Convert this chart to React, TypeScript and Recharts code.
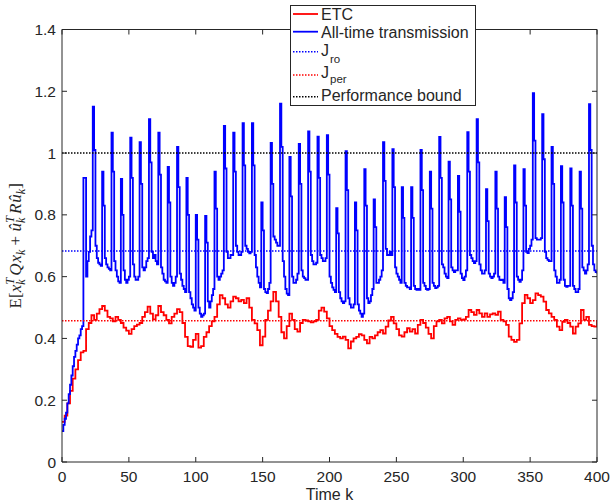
import React from 'react';
import { LineChart, Line, XAxis, YAxis, ReferenceLine, Legend } from 'recharts';

// ---- axis ticks ----
const timeTicks = [0, 50, 100, 150, 200, 250, 300, 350, 400];
const costTicks = [0, 0.2, 0.4, 0.6, 0.8, 1, 1.2, 1.4];

// ---- reference levels ----
const J_RO = 0.683;
const J_PER = 0.457;
const PERFORMANCE_BOUND = 1.0;

// ---- ETC cost, one value every 2 time steps (k = 0, 2, ..., 400) ----
const ETC_PERIOD = 2;
const etcCost = [
  0.13, 0.15, 0.19, 0.23, 0.27, 0.30, 0.33, 0.355, 0.36, 0.43,
  0.45, 0.475, 0.46, 0.48, 0.495, 0.505, 0.49, 0.47, 0.465, 0.455,
  0.47, 0.46, 0.45, 0.435, 0.425, 0.415, 0.43, 0.44, 0.445, 0.45,
  0.47, 0.485, 0.503, 0.48, 0.462, 0.475, 0.505, 0.485, 0.475, 0.46,
  0.449, 0.47, 0.48, 0.495, 0.485, 0.45, 0.405, 0.375, 0.373, 0.395,
  0.415, 0.37, 0.375, 0.405, 0.42, 0.44, 0.455, 0.47, 0.51, 0.54,
  0.53, 0.51, 0.50, 0.52, 0.535, 0.53, 0.52, 0.525, 0.514, 0.53,
  0.50, 0.46, 0.449, 0.427, 0.378, 0.406, 0.46, 0.49, 0.52, 0.551,
  0.52, 0.47, 0.42, 0.40, 0.44, 0.48, 0.46, 0.43, 0.422, 0.45,
  0.46, 0.458, 0.455, 0.452, 0.455, 0.46, 0.49, 0.50, 0.487, 0.465,
  0.44, 0.427, 0.415, 0.405, 0.40, 0.406, 0.395, 0.368, 0.39, 0.40,
  0.405, 0.414, 0.41, 0.395, 0.384, 0.405, 0.40, 0.41, 0.42, 0.427,
  0.416, 0.438, 0.458, 0.47, 0.449, 0.43, 0.41, 0.406, 0.42, 0.433,
  0.422, 0.43, 0.416, 0.444, 0.46, 0.45, 0.435, 0.415, 0.40, 0.44,
  0.455, 0.46, 0.449, 0.465, 0.47, 0.455, 0.444, 0.46, 0.465, 0.46,
  0.462, 0.47, 0.492, 0.485, 0.476, 0.492, 0.481, 0.47, 0.481, 0.47,
  0.478, 0.481, 0.476, 0.487, 0.46, 0.455, 0.444, 0.406, 0.395, 0.389,
  0.395, 0.449, 0.514, 0.541, 0.53, 0.514, 0.524, 0.546, 0.54, 0.535,
  0.519, 0.492, 0.481, 0.47, 0.46, 0.438, 0.427, 0.454, 0.46, 0.45,
  0.438, 0.416, 0.438, 0.449, 0.492, 0.46, 0.47, 0.444, 0.44, 0.438,
  0.46,
];

// ---- all-time transmission cost, one value per time step (k = 0 ... 400) ----
const allTimeCost = [
  0.10, 0.12, 0.14, 0.16, 0.19, 0.22, 0.25, 0.28, 0.31, 0.34, 0.36, 0.38, 0.40, 0.41, 0.43, 0.44,
  0.92, 0.92, 0.60, 0.65, 0.68, 0.73, 0.75,
  1.15, 1.01, 0.70, 0.66, 0.645, 0.64, 0.635,
  0.94, 0.83, 0.66, 0.64, 0.63, 0.625, 0.62,
  1.066, 0.94, 0.65, 0.62, 0.60, 0.585, 0.58,
  0.916, 0.80, 0.62, 0.59, 0.58, 0.59, 0.60,
  1.05, 0.92, 0.64, 0.60, 0.59, 0.59, 0.60,
  1.035, 0.90, 0.63, 0.62, 0.63, 0.65, 0.66,
  1.11, 0.97, 0.68, 0.66, 0.67, 0.65, 0.64,
  1.066, 0.93, 0.63, 0.61, 0.59, 0.585, 0.58,
  0.955, 0.84, 0.60, 0.58, 0.57, 0.58, 0.60,
  1.02, 0.89, 0.61, 0.59, 0.57, 0.56, 0.55,
  0.92, 0.80, 0.55, 0.53, 0.51, 0.50, 0.49,
  0.80, 0.72, 0.50, 0.48, 0.47, 0.475, 0.48,
  0.797, 0.71, 0.52, 0.50, 0.52, 0.54, 0.56,
  0.94, 0.82, 0.60, 0.59, 0.60, 0.61, 0.62,
  1.088, 0.95, 0.68, 0.66, 0.66, 0.67, 0.67,
  1.066, 0.94, 0.70, 0.68, 0.67, 0.67, 0.68,
  1.097, 0.96, 0.70, 0.69, 0.68, 0.675, 0.68,
  1.097, 0.96, 0.67, 0.63, 0.60, 0.58, 0.565,
  0.84, 0.75, 0.56, 0.55, 0.547, 0.56, 0.58,
  1.033, 0.90, 0.73, 0.72, 0.71, 0.70, 0.70,
  1.16, 1.02, 0.65, 0.60, 0.56, 0.545, 0.54,
  0.988, 0.86, 0.60, 0.58, 0.58, 0.59, 0.61,
  1.03, 0.90, 0.62, 0.60, 0.595, 0.59, 0.59,
  1.07, 0.94, 0.67, 0.65, 0.64, 0.64, 0.645,
  1.053, 0.92, 0.67, 0.66, 0.65, 0.65, 0.66,
  1.058, 0.93, 0.60, 0.58, 0.565, 0.557, 0.55,
  0.822, 0.74, 0.55, 0.53, 0.52, 0.514, 0.52,
  1.006, 0.88, 0.53, 0.51, 0.50, 0.50, 0.51,
  0.84, 0.75, 0.51, 0.49, 0.48, 0.47, 0.48,
  0.948, 0.83, 0.53, 0.514, 0.52, 0.54, 0.56,
  0.85, 0.76, 0.58, 0.58, 0.59, 0.60, 0.62,
  1.035, 0.91, 0.69, 0.67, 0.67, 0.68, 0.67,
  1.013, 0.89, 0.63, 0.61, 0.60, 0.59, 0.58,
  0.89, 0.79, 0.58, 0.57, 0.565, 0.565, 0.56,
  0.89, 0.79, 0.57, 0.56, 0.557, 0.56, 0.557,
  1.01, 0.88, 0.58, 0.57, 0.56, 0.557, 0.56,
  0.94, 0.82, 0.58, 0.57, 0.563, 0.565, 0.57,
  1.052, 0.92, 0.64, 0.63, 0.61, 0.60, 0.595,
  0.972, 0.85, 0.63, 0.62, 0.615, 0.62, 0.62,
  0.926, 0.81, 0.61, 0.595, 0.589, 0.60, 0.62,
  1.068, 0.94, 0.67, 0.66, 0.65, 0.644, 0.65,
  1.11, 0.97, 0.64, 0.62, 0.61, 0.61, 0.62,
  0.883, 0.78, 0.61, 0.60, 0.595, 0.60, 0.61,
  0.94, 0.82, 0.60, 0.59, 0.589, 0.59, 0.58,
  0.857, 0.76, 0.56, 0.53, 0.524, 0.53, 0.55,
  0.96, 0.84, 0.60, 0.59, 0.583, 0.59, 0.62,
  0.948, 0.83, 0.68, 0.676, 0.69, 0.70, 0.72,
  1.194, 1.04, 0.725, 0.72, 0.72, 0.72, 0.725,
  1.126, 0.98, 0.68, 0.66, 0.654, 0.65, 0.65,
  1.02, 0.90, 0.62, 0.60, 0.58, 0.58, 0.59,
  0.958, 0.84, 0.59, 0.57, 0.567, 0.57, 0.57,
  0.95, 0.83, 0.57, 0.56, 0.55, 0.55, 0.56,
  0.94, 0.82, 0.63, 0.62, 0.61, 0.62, 0.64,
  1.158, 1.01, 0.70, 0.64, 0.62, 0.615, 0.61,
];

const etcData = etcCost.map((v, i) => ({ k: i * ETC_PERIOD, v }));
const allTimeData = allTimeCost.map((v, k) => ({ k, v }));

const AXIS = '#262626';
const SANS = '"Liberation Sans", Arial, Helvetica, sans-serif';
const SERIF = '"Liberation Serif", "Times New Roman", serif';
const RED = '#ff0000';
const BLUE = '#0000ff';
const BLACK = '#000000';
const DOTS = '1.5 1.5';
const SERIES_WIDTH = 1.8;
const TICK_LEN = 5;
const TICK_FONT = 15.5;

// tick renderers: marks point into the plot, labels sit outside
const BottomTick = (p: any) => (
  <g>
    <line x1={p.x} y1={p.y} x2={p.x} y2={p.y - TICK_LEN} stroke={AXIS} strokeWidth={1} />
    <text x={p.x} y={p.y + 20} textAnchor="middle" fontSize={TICK_FONT} fontFamily={SANS} fill={AXIS}>
      {p.payload.value}
    </text>
  </g>
);
const LeftTick = (p: any) => (
  <g>
    <line x1={p.x} y1={p.y} x2={p.x + TICK_LEN} y2={p.y} stroke={AXIS} strokeWidth={1} />
    <text x={p.x - 6} y={p.y + 5.5} textAnchor="end" fontSize={TICK_FONT} fontFamily={SANS} fill={AXIS}>
      {p.payload.value}
    </text>
  </g>
);
const TopTick = (p: any) => (
  <line x1={p.x} y1={p.y} x2={p.x} y2={p.y + TICK_LEN} stroke={AXIS} strokeWidth={1} />
);
const RightTick = (p: any) => (
  <line x1={p.x} y1={p.y} x2={p.x - TICK_LEN} y2={p.y} stroke={AXIS} strokeWidth={1} />
);

// E[x_k^T Q x_k + û_k^T R û_k]
const CostLabel = (p: any) => {
  const vb = p.viewBox || { x: 61, y: 29.5, width: 1, height: 432.5 };
  const cx = vb.x + vb.width - 41;
  const cy = vb.y + vb.height / 2;
  const big = 17;
  const small = 12;
  return (
    <text
      x={cx}
      y={cy}
      transform={`rotate(-90 ${cx} ${cy})`}
      textAnchor="middle"
      fontFamily={SERIF}
      fontSize={big}
      fill={AXIS}
    >
      <tspan>E[</tspan>
      <tspan fontStyle="italic">x</tspan>
      <tspan fontStyle="italic" fontSize={small} dy={4}>k</tspan>
      <tspan fontStyle="italic" fontSize={small} dx={-5} dy={-11}>T</tspan>
      <tspan fontStyle="italic" dx={2} dy={7}>Q</tspan>
      <tspan fontStyle="italic" dx={1}>x</tspan>
      <tspan fontStyle="italic" fontSize={small} dy={4}>k</tspan>
      <tspan dy={-4}>{' + '}</tspan>
      <tspan fontStyle="italic">û</tspan>
      <tspan fontStyle="italic" fontSize={small} dy={4}>k</tspan>
      <tspan fontStyle="italic" fontSize={small} dx={-5} dy={-11}>T</tspan>
      <tspan fontStyle="italic" dx={2} dy={7}>R</tspan>
      <tspan fontStyle="italic" dx={1}>û</tspan>
      <tspan fontStyle="italic" fontSize={small} dy={4}>k</tspan>
      <tspan dy={-4}>]</tspan>
    </text>
  );
};

const TimeLabel = (p: any) => {
  const vb = p.viewBox || { x: 62, y: 462, width: 535, height: 1 };
  return (
    <text x={vb.x + vb.width / 2} y={vb.y + 38} textAnchor="middle" fontFamily={SANS} fontSize={16} fill={AXIS}>
      Time k
    </text>
  );
};

const legendRows = [
  { name: 'ETC', sub: '', color: RED, dash: undefined as string | undefined, lineY: 9, textY: 15, subY: 0 },
  { name: 'All-time transmission', sub: '', color: BLUE, dash: undefined, lineY: 26.7, textY: 32.5, subY: 0 },
  { name: 'J', sub: 'ro', color: BLUE, dash: DOTS, lineY: 46.7, textY: 51, subY: 58 },
  { name: 'J', sub: 'per', color: RED, dash: DOTS, lineY: 70, textY: 72.5, subY: 77.5 },
  { name: 'Performance bound', sub: '', color: BLACK, dash: DOTS, lineY: 91.7, textY: 96, subY: 0 },
];

const LegendBox = () => (
  <svg width={187} height={102} style={{ display: 'block' }}>
    <rect x={0.5} y={0.5} width={185} height={100} fill="#ffffff" stroke={AXIS} strokeWidth={1} />
    {legendRows.map((r, i) => (
      <g key={i}>
        <line
          x1={3}
          x2={28}
          y1={r.lineY}
          y2={r.lineY}
          stroke={r.color}
          strokeWidth={r.dash ? 1.5 : SERIES_WIDTH}
          strokeDasharray={r.dash}
        />
        <text x={31} y={r.textY} fontFamily={SANS} fontSize={16} fill={AXIS}>
          {r.name}
        </text>
        {r.sub ? (
          <text x={40} y={r.subY} fontFamily={SANS} fontSize={11.5} fill={AXIS}>
            {r.sub}
          </text>
        ) : null}
      </g>
    ))}
  </svg>
);

export default function App() {
  return (
    <div style={{ position: 'absolute', left: 0, top: 0, background: '#ffffff' }}>
      <LineChart width={610} height={503} margin={{ top: 28.5, right: 12, bottom: 40, left: 61 }}>
        <XAxis
          dataKey="k"
          type="number"
          domain={[0, 400]}
          ticks={timeTicks}
          allowDataOverflow
          height={1}
          tickSize={0}
          tickMargin={0}
          tickLine={false}
          tick={BottomTick}
          axisLine={{ stroke: AXIS, strokeWidth: 1 }}
          label={<TimeLabel />}
        />
        <XAxis
          xAxisId="top"
          orientation="top"
          dataKey="k"
          type="number"
          domain={[0, 400]}
          ticks={timeTicks}
          allowDataOverflow
          height={1}
          tickSize={0}
          tickMargin={0}
          tickLine={false}
          tick={TopTick}
          axisLine={{ stroke: AXIS, strokeWidth: 1 }}
        />
        <YAxis
          type="number"
          domain={[0, 1.4]}
          ticks={costTicks}
          allowDataOverflow
          width={1}
          tickSize={0}
          tickMargin={0}
          tickLine={false}
          tick={LeftTick}
          axisLine={{ stroke: AXIS, strokeWidth: 1 }}
          label={<CostLabel />}
        />
        <YAxis
          yAxisId="right"
          orientation="right"
          type="number"
          domain={[0, 1.4]}
          ticks={costTicks}
          allowDataOverflow
          width={1}
          tickSize={0}
          tickMargin={0}
          tickLine={false}
          tick={RightTick}
          axisLine={{ stroke: AXIS, strokeWidth: 1 }}
        />
        <Line
          data={etcData}
          dataKey="v"
          name="ETC"
          type="stepAfter"
          stroke={RED}
          strokeWidth={SERIES_WIDTH}
          dot={false}
          activeDot={false}
          isAnimationActive={false}
        />
        <Line
          data={allTimeData}
          dataKey="v"
          name="All-time transmission"
          type="stepAfter"
          stroke={BLUE}
          strokeWidth={SERIES_WIDTH}
          dot={false}
          activeDot={false}
          isAnimationActive={false}
        />
        <ReferenceLine y={J_RO} stroke={BLUE} strokeWidth={1.5} strokeDasharray={DOTS} />
        <ReferenceLine y={J_PER} stroke={RED} strokeWidth={1.5} strokeDasharray={DOTS} />
        <ReferenceLine y={PERFORMANCE_BOUND} stroke={BLACK} strokeWidth={1.5} strokeDasharray={DOTS} />
        <Legend
          layout="vertical"
          align="center"
          verticalAlign="middle"
          content={<LegendBox />}
          wrapperStyle={{ left: 290, top: 5, width: 187, height: 102 }}
        />
      </LineChart>
    </div>
  );
}
